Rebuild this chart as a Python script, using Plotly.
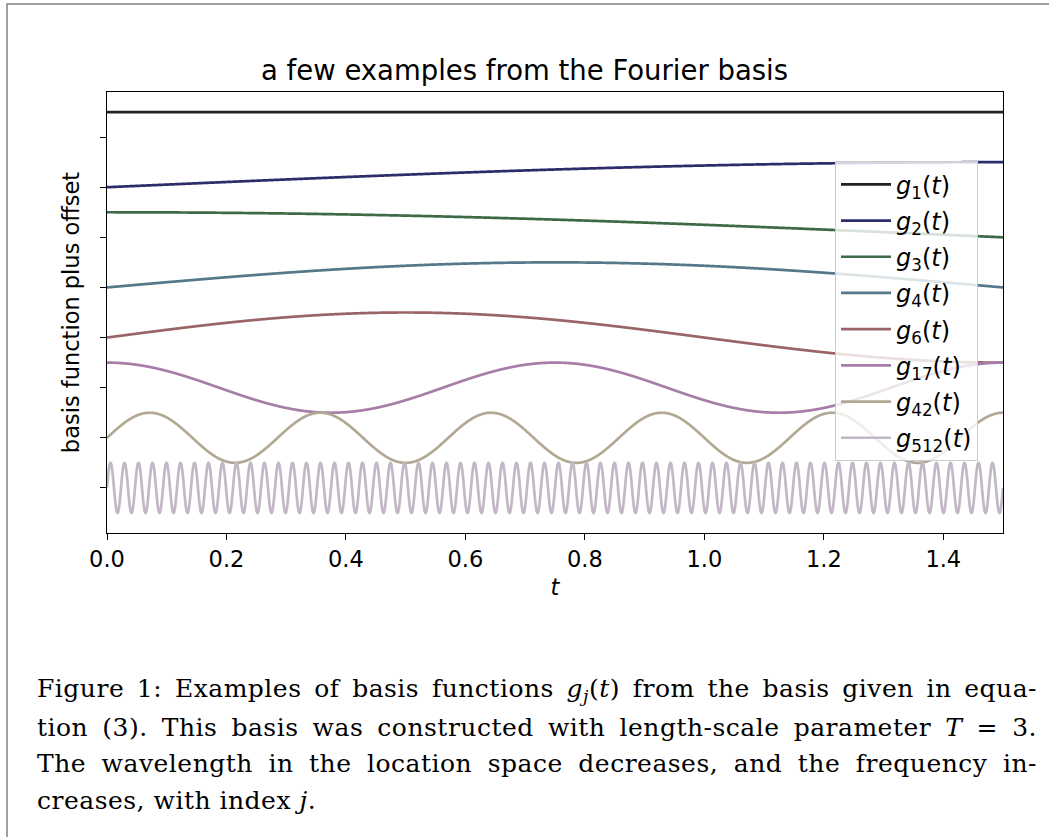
import numpy as np
import plotly.graph_objects as go

# Fourier basis, length-scale T = 3, shown on t in [0, 1.5]
T = 3.0
t_max = 1.5
basis_index = [1, 2, 3, 4, 6, 17, 42, 512]
offsets = [0, -1, -2, -3, -4, -5, -6, -7]
amplitude = 0.5
colors = ["#222222", "#2d2d6b", "#3e6b47", "#54798a",
          "#9a6566", "#a77da9", "#b2a893", "#c2b8c6"]
x_ticks = [0.0, 0.2, 0.4, 0.6, 0.8, 1.0, 1.2, 1.4]

caption_lines = [
    "Figure 1: Examples of basis functions <i>g<sub>j</sub></i>(<i>t</i>) from the basis given in equa-",
    "tion (3). This basis was constructed with length-scale parameter <i>T</i> = 3.",
    "The wavelength in the location space decreases, and the frequency in-",
    "creases, with index <i>j</i>.",
]


def basis(j, t):
    if j == 1:
        return np.ones_like(t)
    k = j // 2
    if j % 2 == 0:
        return np.sin(np.pi * k * t / T)
    return np.cos(np.pi * k * t / T)


t = np.linspace(0, t_max, 6000)

fig = go.Figure()
for j, off, c in zip(basis_index, offsets, colors):
    fig.add_trace(go.Scatter(
        x=t, y=off + amplitude * basis(j, t),
        mode="lines",
        line=dict(color=c, width=2.7, simplify=False),
        name=f"<i>g</i><sub>{j}</sub>(<i>t</i>)",
        legendgroup=str(j),
    ))

fig.update_layout(
    width=1049, height=837,
    margin=dict(l=107, r=46, t=92, b=304),
    plot_bgcolor="white", paper_bgcolor="white",
    font=dict(family="DejaVu Sans", color="black", size=23),
    title=dict(text="a few examples from the Fourier basis",
               x=0.5, xanchor="center", y=1 - 70 / 837, yanchor="middle",
               font=dict(size=27.5)),
    showlegend=True,
    legend=dict(
        x=0.8125, y=0.843, xanchor="left", yanchor="top",
        bgcolor="rgba(255,255,255,0.8)", bordercolor="#cccccc", borderwidth=1,
        font=dict(size=24), tracegroupgap=2, itemwidth=50,
    ),
)

fig.update_xaxes(
    range=[0, t_max], tickvals=x_ticks, ticktext=[f"{v:.1f}" for v in x_ticks],
    showgrid=False, zeroline=False,
    showline=True, linecolor="black", linewidth=1.4, mirror=True,
    ticks="outside", ticklen=6, tickwidth=1.4, tickcolor="black",
    tickfont=dict(size=22.5),
    title=dict(text="<i>t</i>", font=dict(size=22.5), standoff=8),
)
fig.update_yaxes(
    range=[-7.9, 0.9], tickvals=offsets, showticklabels=False,
    showgrid=False, zeroline=False,
    showline=True, linecolor="black", linewidth=1.4, mirror=True,
    ticks="outside", ticklen=6, tickwidth=1.4, tickcolor="black",
    title=dict(text="basis function plus offset", font=dict(size=22.5), standoff=13),
)

# page frame around figure and caption
fig.add_shape(type="rect", xref="paper", yref="paper",
              x0=(7 - 107) / 896, x1=1.2, y0=-1.0, y1=(533 - 4) / 441,
              line=dict(color="#808080", width=1.5), layer="below")

line_y = [690, 727, 763, 800]
for txt, yp in zip(caption_lines, line_y):
    fig.add_annotation(
        text=txt, xref="paper", yref="paper",
        x=(35 - 107) / 896, y=(533 - yp) / 441,
        xanchor="left", yanchor="middle", align="left", showarrow=False,
        font=dict(family="DejaVu Serif", size=25, color="black"),
    )

# justify the first three caption lines like the LaTeX page
justify_js = """
var gd = document.getElementById('{plot_id}');
document.body.style.margin = '0';
gd.querySelectorAll('g.annotation').forEach(function(g) {
  var idx = parseInt(g.getAttribute('data-index'));
  var el = g.querySelector('text.annotation-text');
  if (!el) return;
  el.style.letterSpacing = '0.5px';
  if (idx > 2) return;
  var w = el.getBBox().width;
  var n = (el.textContent.match(/ /g) || []).length;
  if (n > 0 && w < 1000) el.style.wordSpacing = ((1000 - w) / n) + 'px';
});
"""

fig.write_html("out.html", config={"displayModeBar": False}, post_script=justify_js)
